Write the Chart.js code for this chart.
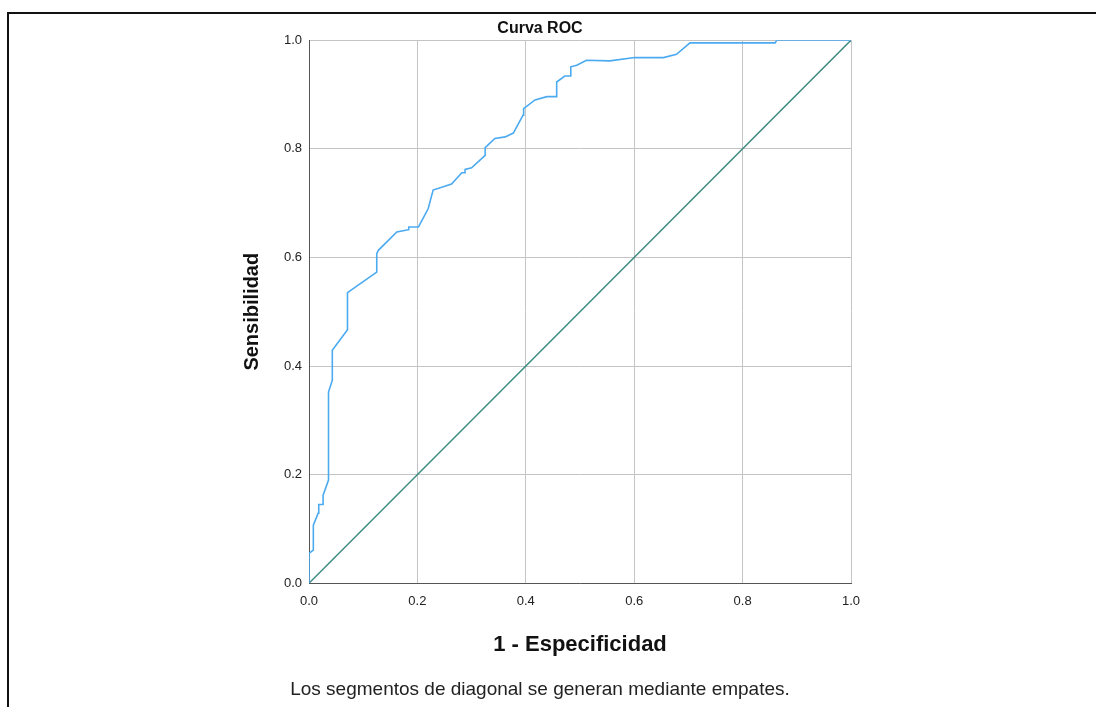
<!DOCTYPE html>
<html><head><meta charset="utf-8">
<script src="https://cdn.jsdelivr.net/npm/chart.js@4/dist/chart.umd.min.js"></script>
<style>
html,body{margin:0;padding:0;background:#fff;}
#wrap{position:relative;width:1096px;height:707px;overflow:hidden;}
#frame{position:absolute;left:7px;top:12px;width:1200px;height:800px;border-top:2px solid #111;border-left:2px solid #111;}
canvas{position:absolute;left:0;top:0;}
</style></head>
<body><div id="wrap"><div id="frame"></div><canvas id="c" width="1096" height="707"></canvas></div>
<script>
const rocFpr = [0,0,0.008,0.008,0.017,0.018,0.026,0.026,0.036,0.036,0.043,0.043,0.071,0.071,0.125,0.125,0.128,0.162,0.183,0.184,0.202,0.220,0.229,0.263,0.282,0.288,0.288,0.300,0.325,0.325,0.343,0.362,0.377,0.395,0.396,0.417,0.439,0.457,0.457,0.472,0.483,0.483,0.494,0.512,0.555,0.601,0.654,0.678,0.703,0.860,0.863,1.0];
const rocTpr = [0,0.055,0.061,0.107,0.129,0.145,0.145,0.162,0.190,0.352,0.374,0.429,0.467,0.535,0.573,0.607,0.613,0.647,0.651,0.656,0.656,0.690,0.724,0.735,0.756,0.756,0.762,0.765,0.788,0.802,0.819,0.822,0.829,0.862,0.874,0.890,0.896,0.896,0.923,0.934,0.934,0.951,0.954,0.963,0.962,0.968,0.968,0.974,0.995,0.995,1.0,1.0];
const refX = [0,1];
const refY = [0,1];
const tickValues = [0,0.2,0.4,0.6,0.8,1.0];
const titleText = 'Curva ROC';
const xTitle = '1 - Especificidad';
const yTitle = 'Sensibilidad';
const footnote = 'Los segmentos de diagonal se generan mediante empates.';

const F = '"Liberation Sans", Arial, sans-serif';
new Chart(document.getElementById('c'), {
  type: 'scatter',
  data: { datasets: [
    { data: rocFpr.map((x,i)=>({x, y: rocTpr[i]})), showLine: true, borderColor: '#4caaf0', borderWidth: 1.6, pointRadius: 0, tension: 0, order: 1 },
    { data: refX.map((x,i)=>({x, y: refY[i]})), showLine: true, borderColor: '#3e8a80', borderWidth: 1.5, pointRadius: 0, order: 2 }
  ]},
  options: {
    responsive: false, animation: false, devicePixelRatio: 1,
    layout: { padding: { left: 229, right: 245, top: 0, bottom: 0 } },
    plugins: {
      legend: { display: false }, tooltip: { enabled: false },
      title: { display: true, text: titleText, color: '#111', font: { family: F, size: 16, weight: 'bold' }, padding: { top: 19, bottom: 2 } },
      subtitle: { display: true, position: 'bottom', text: footnote, color: '#222', font: { family: F, size: 19 }, padding: { top: 0, bottom: 5.6 } }
    },
    scales: {
      x: { type: 'linear', min: 0, max: 1,
        afterBuildTicks: s => { s.ticks = tickValues.map(v=>({value:v})); },
        afterFit: s => { s.height = 95.4; },
        ticks: { color: '#222', font: { family: F, size: 13 }, padding: 10, callback: v => v.toFixed(1), maxRotation: 0, autoSkip: false },
        grid: { color: '#c4c4c4', lineWidth: 1, drawTicks: false },
        border: { color: '#555', width: 1 },
        title: { display: true, text: xTitle, color: '#111', font: { family: F, size: 22, weight: 'bold' }, padding: { top: 0, bottom: 20.4 } } },
      y: { type: 'linear', min: 0, max: 1,
        afterBuildTicks: s => { s.ticks = tickValues.map(v=>({value:v})); },
        afterFit: s => { s.width = 80; },
        ticks: { color: '#222', font: { family: F, size: 13 }, padding: 7, callback: v => v.toFixed(1), autoSkip: false },
        grid: { color: '#c4c4c4', lineWidth: 1, drawTicks: false },
        border: { color: '#555', width: 1 },
        title: { display: true, text: yTitle, color: '#111', font: { family: F, size: 20, weight: 'bold' }, padding: { top: 11, bottom: 0 } } }
    }
  }
});
</script></body></html>
